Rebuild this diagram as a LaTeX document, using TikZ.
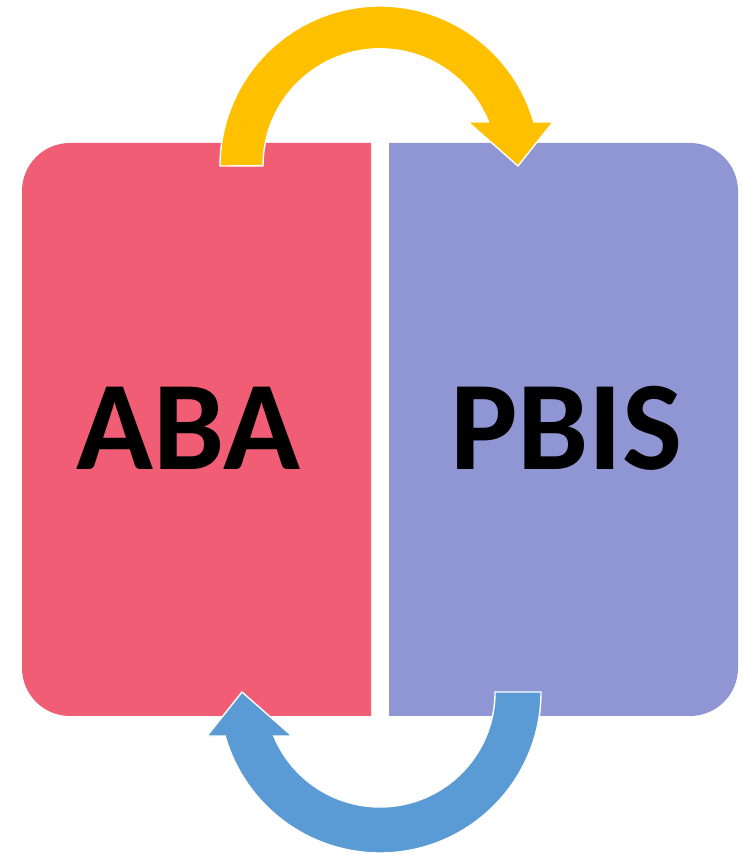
\documentclass[tikz,border=0pt]{standalone}
\usepackage{fontspec}
\setmainfont{Carlito}
\definecolor{abared}{HTML}{F05D74}
\definecolor{pbispurple}{HTML}{8F96D3}
\definecolor{arrowyellow}{HTML}{FFC000}
\definecolor{arrowblue}{HTML}{5B9BD5}
\tikzset{
  bigarrow/.style={draw=white,line width=1.4pt,line join=miter},
  biglabel/.style={font=\bfseries\fontsize{127}{127}\selectfont,text=black,inner sep=0pt,anchor=base}
}
\begin{document}
\begin{tikzpicture}[x=1pt,y=1pt]
\useasboundingbox (0,0) rectangle (743,854);
% boxes
\fill[abared] (371,138) -- (371,711) -- (70,711) arc[start angle=90,end angle=180,radius=48] -- (22,186) arc[start angle=180,end angle=270,radius=48] -- cycle;
\fill[pbispurple] (389,138) -- (389,711) -- (690,711) arc[start angle=90,end angle=0,radius=48] -- (738,186) arc[start angle=0,end angle=-90,radius=48] -- cycle;
% labels
\node[biglabel] (aba) at (188.5,384) {ABA};
\node[biglabel] (pbis) at (566.5,384) {PBIS};
% yellow arrow
\fill[arrowyellow] (220,688) arc[start angle=180,end angle=16,radius=160] -- (553,732) -- (518,688) -- (468,732) -- (488.5,732) arc[start angle=22,end angle=180,radius=117] -- cycle;
\draw[bigarrow] (220,688) arc[start angle=180,end angle=16,radius=160] -- (553,732) -- (518,688) -- (468,732) -- (488.5,732) arc[start angle=22,end angle=180,radius=117] -- cycle;
% blue arrow
\fill[arrowblue] (541,162) arc[start angle=0,end angle=-164.1,radius=161] -- (207,118) -- (242,162) -- (292,118) -- (273.8,118) arc[start angle=-157.5,end angle=0,radius=115] -- cycle;
\draw[bigarrow] (541,162) arc[start angle=0,end angle=-164.1,radius=161] -- (207,118) -- (242,162) -- (292,118) -- (273.8,118) arc[start angle=-157.5,end angle=0,radius=115] -- cycle;
\end{tikzpicture}
\end{document}
